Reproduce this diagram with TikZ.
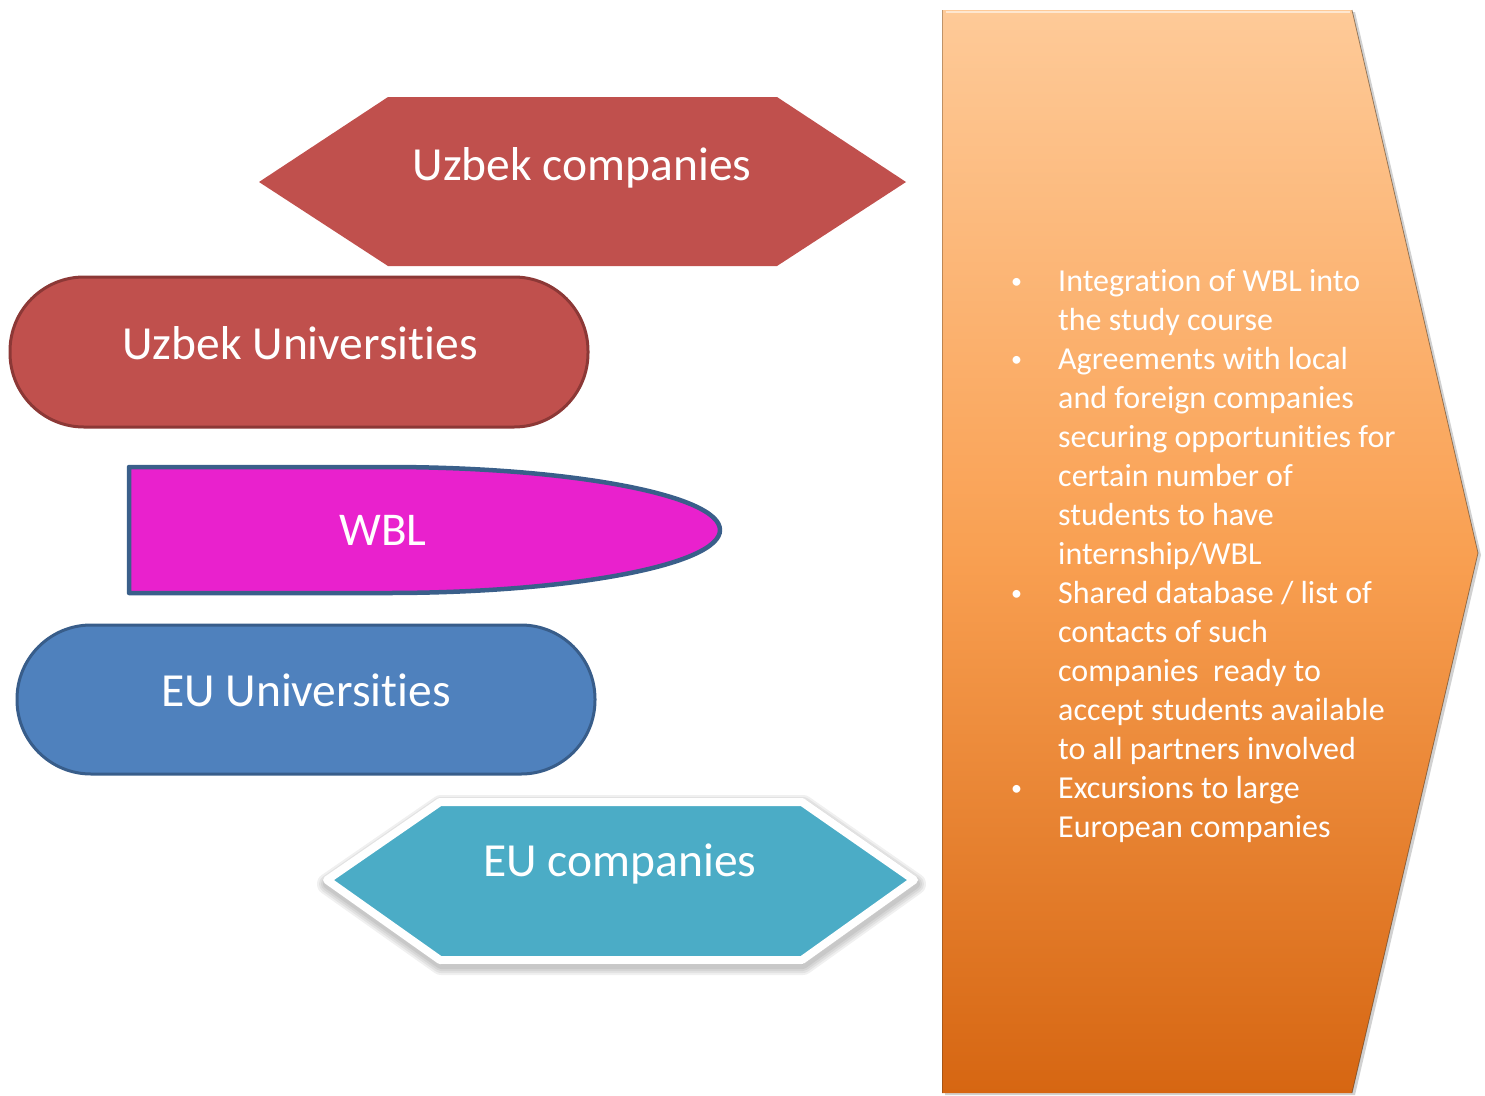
\documentclass[tikz,border=0pt]{standalone}
\usepackage{fontspec}
\setmainfont{Carlito}[Ligatures={NoCommon,NoRequired}]
\usetikzlibrary{calc}
\definecolor{uzred}{RGB}{192,80,77}
\definecolor{uzredline}{RGB}{140,56,54}
\definecolor{wblmag}{RGB}{233,33,205}
\definecolor{wblline}{RGB}{58,95,138}
\definecolor{eublue}{RGB}{79,129,189}
\definecolor{eublueline}{RGB}{56,93,138}
\definecolor{eucyan}{RGB}{75,172,198}
\definecolor{arrtop}{RGB}{254,202,152}
\definecolor{arrmid}{RGB}{249,160,82}
\definecolor{arrbot}{RGB}{214,102,18}
\tikzset{
  bigtext/.style={text=white, font=\fontsize{47.5}{56}\selectfont, inner sep=0pt},
  midtext/.style={text=white, font=\fontsize{47}{56}\selectfont, inner sep=0pt},
}
\newcommand{\smbul}{\hspace{8pt}\raisebox{3pt}{\fontsize{22}{22}\selectfont\textbullet}}
\begin{document}
\begin{tikzpicture}[x=1pt,y=-1pt]
\useasboundingbox (0,0) rectangle (1485,1095);
% right pentagon arrow
\fill[black,opacity=0.18] (945,12) -- (1355,12) -- (1481,555) -- (1355,1095) -- (945,1095) -- cycle;
\shade[top color=arrtop, bottom color=arrbot, middle color=arrmid]
  (942,10) -- (1352,10) -- (1478,553) -- (1352,1093) -- (942,1093) -- cycle;
\draw[white,opacity=0.55,line width=2pt] (946,12) -- (1350,12);
\draw[black!60!brown,opacity=0.55,line width=0.8pt] (1352,10) -- (1478,553) -- (1352,1093);
\draw[black!60!brown,opacity=0.35,line width=1pt] (942,10) -- (942,1093);
\node[anchor=north west, inner sep=0pt, text=white, font=\fontsize{32}{39}\selectfont] (list) at (1003,264) {%
\begin{tabular}{@{}p{55pt}@{}l@{}}
\smbul & Integration of WBL into\\
 & the study course\\
\smbul & Agreements with local\\
 & and foreign companies\\
 & securing opportunities for\\
 & certain number of\\
 & students to have\\
 & internship/WBL\\
\smbul & Shared database / list of\\
 & contacts of such\\
 & companies\ \ ready to\\
 & accept students available\\
 & to all partners involved\\
\smbul & Excursions to large\\
 & European companies
\end{tabular}};
% Uzbek companies hexagon
\fill[uzred] (259,182) -- (388,97) -- (777,97) -- (906,182) -- (777,266) -- (388,266) -- cycle;
\node[bigtext] (uzc) at (582,168) {Uzbek companies};
% Uzbek Universities
\draw[fill=uzred, draw=uzredline, line width=3pt, rounded corners=74pt] (10,277) rectangle (588,427);
\node[bigtext] (uzu) at (300,343) {Uzbek Universities};
% WBL
\draw[fill=wblmag, draw=wblline, line width=4.5pt, line join=round]
  (129,593) -- (129,467) -- (387,467) arc[start angle=90, end angle=-90, x radius=333pt, y radius=63pt] -- cycle;
\node[midtext] (wbl) at (383,530) {WBL};
% EU Universities
\draw[fill=eublue, draw=eublueline, line width=3pt, rounded corners=74pt] (17,625) rectangle (595,774);
\node[bigtext] (euu) at (306,690) {EU Universities};
% EU companies hexagon: soft shadow, white border
\foreach \w in {22,18,14,10}{
  \draw[black, opacity=0.06, fill, line width=\w pt, line join=round, shift={(1,4)}]
    (327,880) -- (440,802) -- (802,802) -- (914,880) -- (802,960) -- (440,960) -- cycle;
}
\draw[fill=eucyan, draw=white, line width=8pt, line join=round] (327,880) -- (440,802) -- (802,802) -- (914,880) -- (802,960) -- (440,960) -- cycle;
\node[bigtext] (euc) at (620,864) {EU companies};
\end{tikzpicture}
\end{document}
